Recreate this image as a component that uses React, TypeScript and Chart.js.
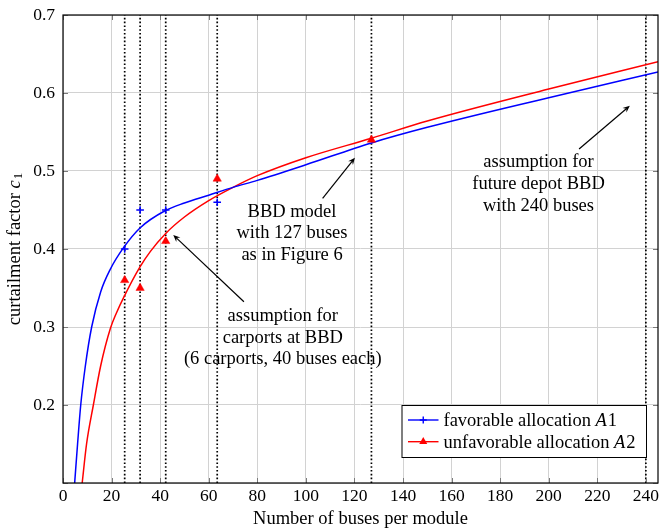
import React, { useEffect, useRef } from 'react';
import { Chart, registerables } from 'chart.js';

Chart.register(...registerables);

// ---- data ----
const xMin = 0;
const xMax = 245;
const yMin = 0.1;
const yMax = 0.7;

// fitted curve, favorable allocation A1 (blue)
const favCurveX = [4.8, 6, 7.3, 9.2, 11.8, 15.5, 19.3, 25, 31.7, 42, 50, 60, 70, 80, 100, 127, 150, 200, 245];
const favCurveY = [0.10, 0.15, 0.20, 0.25, 0.30, 0.345, 0.373, 0.402, 0.427, 0.449, 0.459, 0.469, 0.479, 0.488, 0.508, 0.536, 0.556, 0.594, 0.627];

// fitted curve, unfavorable allocation A2 (red)
const unfavCurveX = [7.9, 9.7, 12.5, 15.5, 19.5, 22, 25, 31.7, 36, 42.3, 50, 60, 70, 80, 100, 127, 150, 200, 245];
const unfavCurveY = [0.10, 0.15, 0.20, 0.25, 0.298, 0.318, 0.338, 0.377, 0.397, 0.42, 0.441, 0.462, 0.479, 0.494, 0.517, 0.542, 0.564, 0.605, 0.640];

// simulated samples
const favSampleX = [25.4, 31.75, 42.3, 63.5];
const favSampleY = [0.40, 0.45, 0.45, 0.46];
const unfavSampleX = [25.4, 31.75, 42.3, 63.5, 127];
const unfavSampleY = [0.36, 0.35, 0.41, 0.49, 0.54];

// dotted vertical scenario lines
const scenarioX = [25.4, 31.75, 42.3, 63.5, 127, 240];

const legendLabels = ['favorable allocation ', 'unfavorable allocation '];
const legendMath = ['A', 'A'];
const legendIdx = ['1', '2'];

const xTitle = 'Number of buses per module';
const yTitle = 'curtailment factor ';

const annotationLines = [
  ['assumption for', 'carports at BBD', '(6 carports, 40 buses each)'],
  ['BBD model', 'with 127 buses', 'as in Figure 6'],
  ['assumption for', 'future depot BBD', 'with 240 buses'],
];
// text centre (x) and first line (y), arrow tail and head, in data units
const annotationTextX = [90.5, 94.3, 195.8];
const annotationTextY = [0.3141, 0.4478, 0.5112];
const arrowFromX = [74.5, 106.9, 212.5];
const arrowFromY = [0.3324, 0.465, 0.5282];
const arrowToX = [45.4, 120.2, 233.4];
const arrowToY = [0.418, 0.517, 0.5837];

const BLUE = '#0000ff';
const RED = '#ff0000';
const FONT = '"Liberation Serif", "Times New Roman", serif';
const TEXT_SIZE = 18.5;
const TICK_SIZE = 17.5;

function drawArrow(ctx: CanvasRenderingContext2D, x1: number, y1: number, x2: number, y2: number) {
  const ang = Math.atan2(y2 - y1, x2 - x1);
  const len = 7;
  const hw = 3;
  ctx.save();
  ctx.strokeStyle = '#000';
  ctx.fillStyle = '#000';
  ctx.lineWidth = 1.2;
  ctx.beginPath();
  ctx.moveTo(x1, y1);
  ctx.lineTo(x2 - Math.cos(ang) * len * 0.6, y2 - Math.sin(ang) * len * 0.6);
  ctx.stroke();
  ctx.translate(x2, y2);
  ctx.rotate(ang);
  ctx.beginPath();
  ctx.moveTo(0, 0);
  ctx.lineTo(-len, -hw);
  ctx.lineTo(-len * 0.65, 0);
  ctx.lineTo(-len, hw);
  ctx.closePath();
  ctx.fill();
  ctx.restore();
}

const overlay = {
  id: 'overlay',
  afterDraw(chart: any) {
    const ctx: CanvasRenderingContext2D = chart.ctx;
    const { left, right, top, bottom } = chart.chartArea;
    const xs = chart.scales.x;
    const ys = chart.scales.y;
    ctx.save();

    // inner tick marks
    ctx.strokeStyle = '#7a7a7a';
    ctx.lineWidth = 1;
    xs.ticks.forEach((t: any) => {
      const px = Math.round(xs.getPixelForValue(t.value)) + 0.5;
      ctx.beginPath();
      ctx.moveTo(px, bottom); ctx.lineTo(px, bottom - 5);
      ctx.moveTo(px, top); ctx.lineTo(px, top + 5);
      ctx.stroke();
    });
    ys.ticks.forEach((t: any) => {
      const py = Math.round(ys.getPixelForValue(t.value)) + 0.5;
      ctx.beginPath();
      ctx.moveTo(left, py); ctx.lineTo(left + 5, py);
      ctx.moveTo(right, py); ctx.lineTo(right - 5, py);
      ctx.stroke();
    });

    // frame
    ctx.strokeStyle = '#000';
    ctx.lineWidth = 1.2;
    ctx.strokeRect(left, top, right - left, bottom - top);

    // annotations
    ctx.fillStyle = '#000';
    ctx.font = `${TEXT_SIZE}px ${FONT}`;
    ctx.textAlign = 'center';
    ctx.textBaseline = 'middle';
    annotationLines.forEach((lines, i) => {
      const cx = xs.getPixelForValue(annotationTextX[i]);
      const cy = ys.getPixelForValue(annotationTextY[i]);
      lines.forEach((ln, j) => ctx.fillText(ln, cx, cy + j * 21.7));
      drawArrow(
        ctx,
        xs.getPixelForValue(arrowFromX[i]), ys.getPixelForValue(arrowFromY[i]),
        xs.getPixelForValue(arrowToX[i]), ys.getPixelForValue(arrowToY[i])
      );
    });

    // legend
    const lgRight = right - 12;
    const lgBottom = bottom - 26;
    const lgW = 244.5;
    const lgH = 52;
    const lgLeft = lgRight - lgW;
    const lgTop = lgBottom - lgH;
    ctx.fillStyle = '#fff';
    ctx.fillRect(lgLeft, lgTop, lgW, lgH);
    ctx.strokeStyle = '#000';
    ctx.lineWidth = 1;
    ctx.strokeRect(lgLeft + 0.5, lgTop + 0.5, lgW, lgH);
    const colors = [BLUE, RED];
    for (let i = 0; i < 2; i++) {
      const yy = lgTop + 15 + i * 21.7;
      const x0 = lgLeft + 6.5;
      const x1 = lgLeft + 37;
      ctx.strokeStyle = colors[i];
      ctx.lineWidth = 1.4;
      ctx.beginPath(); ctx.moveTo(x0, yy); ctx.lineTo(x1, yy); ctx.stroke();
      const mx = (x0 + x1) / 2;
      if (i === 0) {
        ctx.beginPath();
        ctx.moveTo(mx - 3.5, yy); ctx.lineTo(mx + 3.5, yy);
        ctx.moveTo(mx, yy - 3.5); ctx.lineTo(mx, yy + 3.5);
        ctx.stroke();
      } else {
        ctx.fillStyle = RED;
        ctx.beginPath();
        ctx.moveTo(mx, yy - 4.6);
        ctx.lineTo(mx + 4, yy + 2.3);
        ctx.lineTo(mx - 4, yy + 2.3);
        ctx.closePath();
        ctx.fill();
      }
      ctx.fillStyle = '#000';
      ctx.textAlign = 'left';
      ctx.textBaseline = 'middle';
      let tx = lgLeft + 42;
      ctx.font = `${TEXT_SIZE}px ${FONT}`;
      ctx.fillText(legendLabels[i], tx, yy + 1);
      tx += ctx.measureText(legendLabels[i]).width;
      ctx.font = `italic ${TEXT_SIZE}px ${FONT}`;
      ctx.fillText(legendMath[i], tx, yy + 1);
      tx += ctx.measureText(legendMath[i]).width + 1;
      ctx.font = `${TEXT_SIZE}px ${FONT}`;
      ctx.fillText(legendIdx[i], tx, yy + 1);
    }

    // x title
    ctx.fillStyle = '#000';
    ctx.font = `${TEXT_SIZE}px ${FONT}`;
    ctx.textAlign = 'center';
    ctx.textBaseline = 'middle';
    ctx.fillText(xTitle, (left + right) / 2, 519);

    // y title (rotated)
    ctx.save();
    ctx.translate(15, (top + bottom) / 2);
    ctx.rotate(-Math.PI / 2);
    ctx.textBaseline = 'middle';
    ctx.textAlign = 'left';
    ctx.font = `${TEXT_SIZE}px ${FONT}`;
    const w1 = ctx.measureText(yTitle).width;
    ctx.font = `italic ${TEXT_SIZE}px ${FONT}`;
    const w2 = ctx.measureText('c').width;
    ctx.font = `${TEXT_SIZE * 0.7}px ${FONT}`;
    const w3 = ctx.measureText('1').width;
    let sx = -(w1 + w2 + w3 + 1) / 2;
    ctx.font = `${TEXT_SIZE}px ${FONT}`;
    ctx.fillText(yTitle, sx, 0);
    sx += w1;
    ctx.font = `italic ${TEXT_SIZE}px ${FONT}`;
    ctx.fillText('c', sx, 0);
    sx += w2 + 1;
    ctx.font = `${TEXT_SIZE * 0.7}px ${FONT}`;
    ctx.fillText('1', sx, 4);
    ctx.restore();

    ctx.restore();
  },
};

export default function App() {
  const ref = useRef<HTMLCanvasElement>(null);
  useEffect(() => {
    const canvas = ref.current;
    if (!canvas) return;
    const dotted = scenarioX.map((x) => ({
      type: 'line' as const,
      data: [{ x, y: yMin }, { x, y: yMax }],
      borderColor: '#000',
      borderWidth: 1.7,
      borderDash: [1.6, 2.2],
      pointRadius: 0,
      order: 3,
    }));
    const chart = new Chart(canvas, {
      type: 'line',
      data: {
        datasets: [
          {
            label: 'unfavorable allocation A2',
            data: unfavSampleX.map((x, i) => ({ x, y: unfavSampleY[i] })),
            showLine: false,
            pointStyle: 'triangle',
            pointRadius: 4.8,
            borderColor: RED,
            backgroundColor: RED,
            pointBorderWidth: 0.5,
            order: 0,
          },
          {
            label: 'favorable allocation A1',
            data: favSampleX.map((x, i) => ({ x, y: favSampleY[i] })),
            showLine: false,
            pointStyle: 'cross',
            pointRadius: 3.8,
            borderColor: BLUE,
            backgroundColor: BLUE,
            pointBorderWidth: 1.5,
            order: 0,
          },
          {
            label: 'fit A1',
            data: favCurveX.map((x, i) => ({ x, y: favCurveY[i] })),
            borderColor: BLUE,
            borderWidth: 1.5,
            pointRadius: 0,
            cubicInterpolationMode: 'monotone',
            order: 1,
          },
          {
            label: 'fit A2',
            data: unfavCurveX.map((x, i) => ({ x, y: unfavCurveY[i] })),
            borderColor: RED,
            borderWidth: 1.5,
            pointRadius: 0,
            cubicInterpolationMode: 'monotone',
            order: 1,
          },
          ...dotted,
        ] as any,
      },
      options: {
        animation: false,
        responsive: true,
        maintainAspectRatio: false,
        layout: { autoPadding: false, padding: { top: 15, right: 1, left: 0, bottom: 0 } },
        plugins: { legend: { display: false }, tooltip: { enabled: false } },
        scales: {
          x: {
            type: 'linear',
            min: xMin,
            max: xMax,
            ticks: {
              stepSize: 20,
              includeBounds: false,
              autoSkip: false,
              maxRotation: 0,
              padding: 3,
              color: '#000',
              font: { family: FONT, size: TICK_SIZE },
              callback: (v: any) => String(v),
            },
            grid: { color: '#d2d2d2', lineWidth: 1, drawTicks: false },
            border: { display: false },
            afterFit: (s: any) => { s.height = 47; s.paddingLeft = 0; s.paddingRight = 0; },
          },
          y: {
            type: 'linear',
            min: yMin,
            max: yMax,
            ticks: {
              stepSize: 0.1,
              padding: 8,
              color: '#000',
              font: { family: FONT, size: TICK_SIZE },
              callback: (v: any) => (v < 0.15 ? '' : Number(v).toFixed(1)),
            },
            grid: { color: '#d2d2d2', lineWidth: 1, drawTicks: false },
            border: { display: false },
            afterFit: (s: any) => { s.width = 63; s.paddingTop = 0; s.paddingBottom = 0; },
          },
        },
      },
      plugins: [overlay],
    });
    return () => chart.destroy();
  }, []);
  return (
    <div style={{ position: 'fixed', left: 0, top: 0, width: 659, height: 530, background: '#fff' }}>
      <canvas ref={ref} />
    </div>
  );
}
